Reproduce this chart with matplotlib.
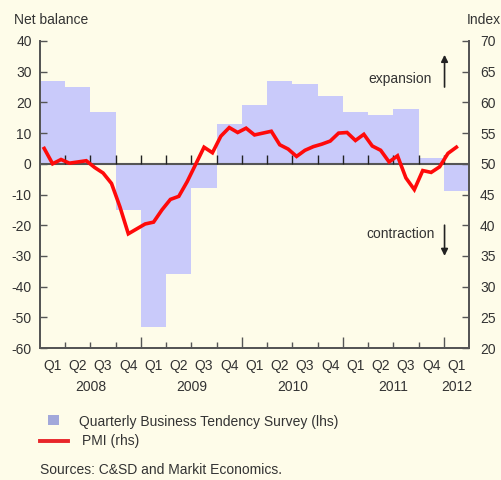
import matplotlib
matplotlib.use("Agg")
import matplotlib.pyplot as plt
import matplotlib.transforms as mtransforms
import numpy as np

plt.rcParams['font.family'] = ['Liberation Sans', 'DejaVu Sans']
plt.rcParams['axes.unicode_minus'] = False

quarters = ["Q1", "Q2", "Q3", "Q4"] * 4 + ["Q1"]
years = ["2008", "2009", "2010", "2011", "2012"]
survey = [27, 25, 17, -15, -53, -36, -8, 13, 19, 27, 26, 22, 17, 16, 18, 2, -9]
pmi = [52.5, 50.0, 50.7, 50.1, 50.3, 50.5, 49.4, 48.5, 46.8, 43.0, 38.6, 39.4,
       40.2, 40.5, 42.5, 44.2, 44.7, 47.1, 49.9, 52.7, 51.8, 54.5, 55.9, 55.1,
       55.8, 54.7, 55.0, 55.3, 53.1, 52.4, 51.2, 52.2, 52.8, 53.2, 53.7, 55.0,
       55.1, 53.8, 54.8, 52.9, 52.2, 50.3, 51.3, 47.7, 45.8, 48.9, 48.6, 49.5,
       51.7, 52.7]

BG = "#FEFCE9"
BAR = "#C9CAFA"
RED = "#FF0A0A"
TXT = "#333333"
AX = "#555555"
FS = 10

fig = plt.figure(figsize=(5.02, 4.8), dpi=100, facecolor=BG)
ax = fig.add_axes([40/502, 1-348/480, 429/502, 307/480])
ax.set_facecolor(BG)
ax2 = ax.twinx()

nq = len(survey)
xq = np.arange(nq) + 0.5
ax.bar(xq, survey, width=1.0, color=BAR, linewidth=0, zorder=1)
ax.axhline(0, color=AX, lw=1.5, zorder=2)
bounds = np.arange(1, nq)
ax.vlines(bounds, 0, 2.8, color="#222222", lw=1.0, zorder=2)

xm = (np.arange(len(pmi)) + 0.5) / 3.0
ax2.plot(xm, pmi, color=RED, lw=2.6, zorder=5, solid_joinstyle='miter')

ax.set_xlim(0, nq)
ax.set_ylim(-60, 40)
ax2.set_ylim(20, 70)
ax.set_yticks(np.arange(-60, 41, 10))
ax2.set_yticks(np.arange(20, 71, 5))

for a in (ax, ax2):
    a.spines['top'].set_visible(False)
    for s in ('left', 'right', 'bottom'):
        a.spines[s].set_color(AX)
        a.spines[s].set_linewidth(1.3)
ax.tick_params(axis='y', direction='in', length=5, width=1, color=AX,
               labelsize=FS, labelcolor=TXT, pad=6)
ax2.tick_params(axis='y', direction='in', length=5, width=1, color=AX,
                labelsize=FS, labelcolor=TXT, pad=8)

ax.set_xticks([4, 8, 12, 16])
ax.set_xticks(bounds, minor=True)
ax.set_xticklabels([])
ax.tick_params(axis='x', which='major', direction='in', length=8, width=1, color=AX)
ax.tick_params(axis='x', which='minor', direction='in', length=4, width=1, color=AX)
ax2.set_zorder(ax.get_zorder() + 1)
ax2.patch.set_visible(False)

trans = mtransforms.blended_transform_factory(ax.transData, ax.transAxes)
for i, q in enumerate(quarters):
    ax.text(i + 0.5, -0.058, q, transform=trans, ha='center', va='center',
            fontsize=FS, color=TXT)
year_centers = [2, 6, 10, 14, 16.5]
for yc, yl in zip(year_centers, years):
    ax.text(yc, -0.128, yl, transform=trans, ha='center', va='center',
            fontsize=FS, color=TXT)

fig.text(14/502, 1-20/480, "Net balance", ha='left', va='center', fontsize=FS, color=TXT)
fig.text(501/502, 1-20/480, "Index", ha='right', va='center', fontsize=FS, color=TXT)

# expansion / contraction
ax.text(0.914, 0.875, "expansion", transform=ax.transAxes, ha='right', va='center',
        fontsize=FS, color=TXT)
ax.annotate("", xy=(0.943, 0.955), xytext=(0.943, 0.85), xycoords='axes fraction',
            arrowprops=dict(arrowstyle='-|>', color='#222222', lw=1.2,
                            mutation_scale=10, shrinkA=0, shrinkB=0))
ax.text(0.92, 0.37, "contraction", transform=ax.transAxes, ha='right', va='center',
        fontsize=FS, color=TXT)
ax.annotate("", xy=(0.943, 0.30), xytext=(0.943, 0.40), xycoords='axes fraction',
            arrowprops=dict(arrowstyle='-|>', color='#222222', lw=1.2,
                            mutation_scale=10, shrinkA=0, shrinkB=0))

# legend
fig.patches.append(plt.Rectangle((48/502, 1-425/480), 11/502, 10/480,
                                 transform=fig.transFigure, color="#A2A8DA", lw=0))
fig.text(79/502, 1-422/480, "Quarterly Business Tendency Survey (lhs)", ha='left',
         va='center', fontsize=FS, color=TXT)
fig.lines.append(plt.Line2D([40/502, 68/502], [1-441/480, 1-441/480],
                            transform=fig.transFigure, color="#E8262A", lw=2.8))
fig.text(82/502, 1-441/480, "PMI (rhs)", ha='left', va='center', fontsize=FS, color=TXT)
fig.text(40/502, 1-470/480, "Sources: C&SD and Markit Economics.", ha='left',
         va='center', fontsize=FS, color=TXT)

fig.savefig("out.png", dpi=100, facecolor=BG)
